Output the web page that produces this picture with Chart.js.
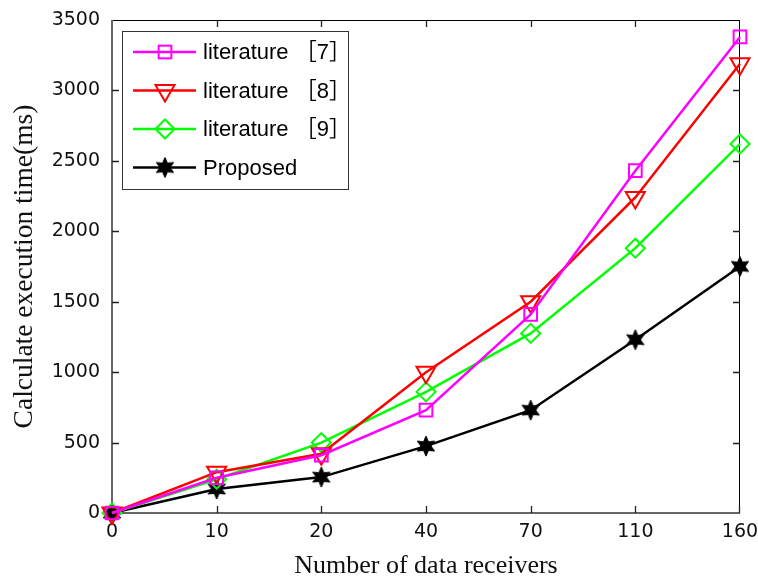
<!DOCTYPE html>
<html><head><meta charset="utf-8">
<script src="https://cdn.jsdelivr.net/npm/chart.js@4/dist/chart.umd.min.js"></script>
<style>html,body{margin:0;padding:0;background:#fff}#wrap{width:758px;height:579px}</style>
</head><body><div id="wrap"><canvas id="c" width="758" height="579"></canvas></div>
<script>
const categories = ['0','10','20','40','70','110','160'];
const lit7 = [0, 250, 410, 730, 1410, 2430, 3380];
const lit8 = [0, 290, 420, 1000, 1500, 2240, 3190];
const lit9 = [0, 240, 500, 860, 1275, 1880, 2620];
const proposed = [0, 170, 255, 475, 730, 1230, 1750];
const yTicks = [0, 500, 1000, 1500, 2000, 2500, 3000, 3500];
const seriesNames = ['literature ［7］', 'literature ［8］', 'literature ［9］', 'Proposed'];

function makeStar(r) {
  const s = Math.ceil(2 * r + 4);
  const c = document.createElement('canvas');
  c.width = s; c.height = s;
  const g = c.getContext('2d');
  const cx = s / 2, cy = s / 2, ri = r * 0.5;
  g.beginPath();
  for (let i = 0; i < 12; i++) {
    const a = -Math.PI / 2 + i * Math.PI / 6;
    const rr = i % 2 === 0 ? r : ri;
    g.lineTo(cx + rr * Math.cos(a), cy + rr * Math.sin(a));
  }
  g.closePath();
  g.fillStyle = '#000'; g.fill();
  g.strokeStyle = '#000'; g.lineWidth = 1; g.stroke();
  return c;
}
const starImg = makeStar(10);

function drawMarker(ctx, ds, x, y) {
  const style = ds.pointStyle, r = ds.pointRadius, rot = (ds.pointRotation || 0) * Math.PI / 180;
  ctx.save();
  ctx.strokeStyle = ds.borderColor; ctx.lineWidth = ds.pointBorderWidth;
  if (style instanceof HTMLCanvasElement) {
    ctx.drawImage(style, x - style.width / 2, y - style.height / 2);
  } else if (style === 'rect') {
    const s = Math.SQRT1_2 * r;
    ctx.strokeRect(x - s, y - s, 2 * s, 2 * s);
  } else if (style === 'triangle') {
    ctx.beginPath();
    let a = rot;
    for (let i = 0; i < 3; i++) { ctx.lineTo(x + Math.sin(a) * r, y - Math.cos(a) * r); a += 2 * Math.PI / 3; }
    ctx.closePath(); ctx.stroke();
  } else if (style === 'rectRot') {
    ctx.beginPath();
    ctx.moveTo(x - r, y); ctx.lineTo(x, y - r); ctx.lineTo(x + r, y); ctx.lineTo(x, y + r);
    ctx.closePath(); ctx.stroke();
  }
  ctx.restore();
}

const framePlugin = {
  id: 'frame',
  beforeDatasetsDraw(chart) {
    const ctx = chart.ctx;
    const {left, right, top, bottom} = chart.chartArea;
    const xs = chart.scales.x, ys = chart.scales.y;
    ctx.save();
    ctx.strokeStyle = '#000'; ctx.lineWidth = 1;
    ctx.beginPath();
    ctx.moveTo(left, top + 0.5); ctx.lineTo(right, top + 0.5);
    ctx.moveTo(right - 0.5, top); ctx.lineTo(right - 0.5, bottom);
    ctx.stroke();
    ctx.strokeStyle = '#666'; ctx.lineWidth = 2;
    ctx.beginPath();
    ctx.moveTo(left, top); ctx.lineTo(left, bottom + 1);
    ctx.moveTo(left - 1, bottom); ctx.lineTo(right, bottom);
    ctx.stroke();
    ctx.strokeStyle = '#222'; ctx.lineWidth = 1.3;
    ctx.beginPath();
    for (let i = 1; i < categories.length - 1; i++) {
      const px = Math.round(xs.getPixelForTick(i)) + 0.5;
      ctx.moveTo(px, bottom); ctx.lineTo(px, bottom - 7);
      ctx.moveTo(px, top); ctx.lineTo(px, top + 7);
    }
    ctx.moveTo(right - 0.5, bottom); ctx.lineTo(right - 0.5, bottom - 7);
    for (let i = 1; i < yTicks.length - 1; i++) {
      const py = Math.round(ys.getPixelForValue(yTicks[i])) + 0.5;
      ctx.moveTo(left, py); ctx.lineTo(left + 7, py);
      ctx.moveTo(right, py); ctx.lineTo(right - 7, py);
    }
    ctx.stroke();
    ctx.restore();
  }
};

const legendPlugin = {
  id: 'boxLegend',
  afterDatasetsDraw(chart) {
    const ctx = chart.ctx;
    ctx.save();
    ctx.fillStyle = '#fff';
    ctx.fillRect(122, 31, 227, 159);
    ctx.strokeStyle = '#333'; ctx.lineWidth = 1;
    ctx.strokeRect(122.5, 31.5, 226, 158);
    chart.data.datasets.forEach((ds, i) => {
      const y = 52 + i * 38.5;
      ctx.strokeStyle = ds.borderColor; ctx.lineWidth = ds.borderWidth;
      ctx.beginPath(); ctx.moveTo(133, y); ctx.lineTo(196, y); ctx.stroke();
      drawMarker(ctx, ds, 165, y);
      ctx.fillStyle = '#000';
      ctx.font = '22px "Liberation Sans", Arial, "Noto Sans CJK SC"';
      ctx.textBaseline = 'middle'; ctx.textAlign = 'left';
      ctx.fillText(ds.label, 203, y + 1);
    });
    ctx.restore();
  }
};

const common = {fill: false, tension: 0, borderWidth: 2.5, pointBorderWidth: 2, pointBackgroundColor: 'rgba(0,0,0,0)', clip: false};

new Chart(document.getElementById('c'), {
  type: 'line',
  data: {
    labels: categories,
    datasets: [
      Object.assign({label: seriesNames[0], data: lit7, borderColor: '#ff00ff', pointBorderColor: '#ff00ff', pointStyle: 'rect', pointRadius: 9}, common),
      Object.assign({label: seriesNames[1], data: lit8, borderColor: '#ff0000', pointBorderColor: '#ff0000', pointStyle: 'triangle', pointRotation: 180, pointRadius: 11}, common),
      Object.assign({label: seriesNames[2], data: lit9, borderColor: '#00ff00', pointBorderColor: '#00ff00', pointStyle: 'rectRot', pointRadius: 9.5}, common),
      Object.assign({label: seriesNames[3], data: proposed, borderColor: '#000000', pointBorderColor: '#000000', pointStyle: starImg, pointRadius: 10}, common)
    ]
  },
  options: {
    responsive: false,
    devicePixelRatio: 1,
    animation: false,
    layout: {padding: {top: 20, right: 18, left: 0, bottom: 0}},
    plugins: {legend: {display: false}, tooltip: {enabled: false}},
    scales: {
      x: {
        type: 'category',
        offset: false,
        grid: {display: false, drawTicks: false},
        border: {display: false},
        ticks: {color: '#111', font: {family: '"DejaVu Sans"', size: 19}, padding: 8, maxRotation: 0, autoSkip: false},
        title: {display: true, text: 'Number of data receivers', color: '#111', font: {family: '"Liberation Serif", "Times New Roman", serif', size: 26, lineHeight: 1}, padding: {top: 0, bottom: 0}},
        afterFit(s) { s.height = 66; s.paddingLeft = 0; s.paddingRight = 0; }
      },
      y: {
        min: 0, max: 3500,
        grid: {display: false, drawTicks: false},
        border: {display: false},
        afterBuildTicks(s) { s.ticks = yTicks.map(v => ({value: v})); },
        ticks: {color: '#111', font: {family: '"DejaVu Sans"', size: 19}, padding: 12, callback: (v) => String(v)},
        title: {display: true, text: 'Calculate execution time(ms)', color: '#111', font: {family: '"Liberation Serif", "Times New Roman", serif', size: 27.5, lineHeight: 1}, padding: {top: 11, bottom: 0}},
        afterFit(s) { s.width = 112; s.paddingTop = 0; s.paddingBottom = 0; }
      }
    }
  },
  plugins: [framePlugin, legendPlugin]
});
</script>
</body></html>
